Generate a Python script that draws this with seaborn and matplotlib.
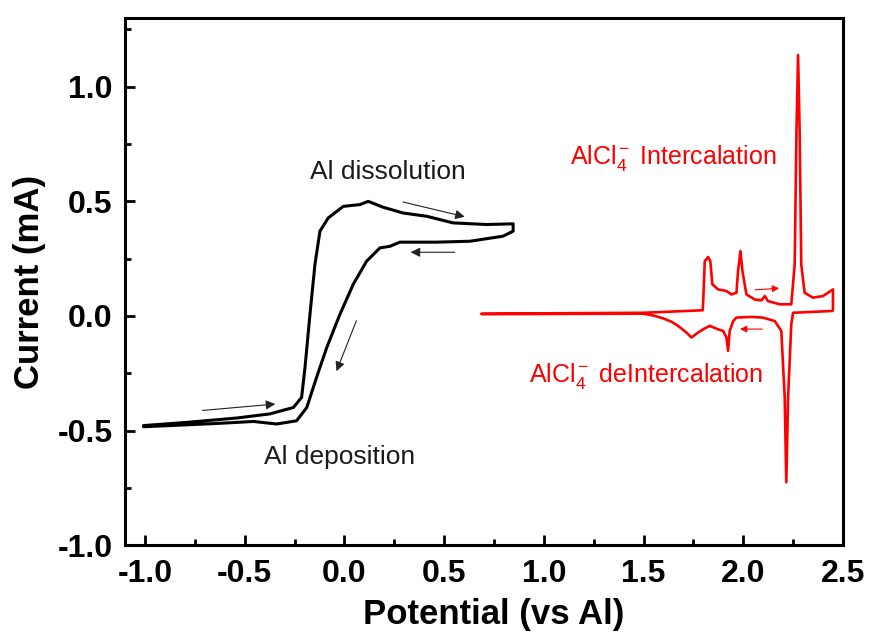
import matplotlib
matplotlib.use("Agg")
import matplotlib.pyplot as plt
import seaborn as sns
import pandas as pd
from matplotlib.ticker import MultipleLocator

# Al deposition / dissolution loop (black)
al_potential = [-1.008, -0.791, -0.541, -0.374, -0.256, -0.215, -0.198, -0.173, -0.148, -0.123,
                -0.081, -0.006, 0.078, 0.119, 0.195, 0.295, 0.412, 0.545, 0.712, 0.846,
                0.846, 0.795, 0.629, 0.462, 0.278, 0.228, 0.178, 0.111, 0.044, -0.023,
                -0.089, -0.140, -0.189, -0.240, -0.340, -0.457, -0.624, -0.875, -1.008]
al_current = [-0.478, -0.464, -0.445, -0.427, -0.399, -0.355, -0.225, 0.007, 0.225, 0.370,
              0.428, 0.478, 0.486, 0.500, 0.474, 0.449, 0.435, 0.406, 0.399, 0.402,
              0.370, 0.348, 0.326, 0.322, 0.322, 0.304, 0.297, 0.239, 0.138, 0.007,
              -0.138, -0.268, -0.399, -0.457, -0.471, -0.460, -0.468, -0.478, -0.483]

# AlCl4- intercalation / deintercalation loop (red)
cl_potential = [0.688, 1.498, 1.797, 1.800, 1.807, 1.824, 1.835, 1.845, 1.874, 1.916,
                1.941, 1.966, 1.974, 1.986, 1.996, 2.016, 2.058, 2.091, 2.108, 2.124,
                2.183, 2.241, 2.258, 2.267, 2.275, 2.283, 2.291, 2.308, 2.350, 2.400,
                2.450, 2.450, 2.448, 2.250, 2.241, 2.225, 2.216, 2.208, 2.191, 2.158,
                2.099, 2.041, 1.966, 1.950, 1.932, 1.924, 1.916, 1.899, 1.874, 1.832,
                1.799, 1.774, 1.740, 1.715, 1.673, 1.640, 1.598, 1.550, 1.498, 0.688]
cl_current = [0.010, 0.014, 0.025, 0.080, 0.239, 0.257, 0.239, 0.138, 0.116, 0.109,
              0.094, 0.101, 0.196, 0.283, 0.196, 0.094, 0.072, 0.068, 0.087, 0.065,
              0.051, 0.051, 0.225, 0.804, 1.138, 0.804, 0.225, 0.101, 0.080, 0.087,
              0.116, 0.029, 0.022, 0.014, -0.036, -0.355, -0.725, -0.355, -0.065, -0.022,
              -0.007, -0.004, -0.007, -0.022, -0.065, -0.152, -0.094, -0.065, -0.058, -0.043,
              -0.058, -0.072, -0.094, -0.072, -0.043, -0.025, -0.010, 0.002, 0.010, 0.008]

x_ticks = [-1.0, -0.5, 0.0, 0.5, 1.0, 1.5, 2.0, 2.5]
y_ticks = [-1.0, -0.5, 0.0, 0.5, 1.0]

al_df = pd.DataFrame({"Potential": al_potential, "Current": al_current})
cl_df = pd.DataFrame({"Potential": cl_potential, "Current": cl_current})

sns.set_style("ticks")
plt.rcParams['font.family'] = ['Liberation Sans', 'DejaVu Sans']
plt.rcParams['mathtext.fontset'] = 'custom'
plt.rcParams['mathtext.rm'] = 'Liberation Sans'
plt.rcParams['mathtext.it'] = 'Liberation Sans'
plt.rcParams['axes.unicode_minus'] = False
plt.rcParams['text.color'] = 'black'
plt.rcParams['axes.labelcolor'] = 'black'
plt.rcParams['xtick.color'] = 'black'
plt.rcParams['ytick.color'] = 'black'
plt.rcParams['axes.edgecolor'] = 'black'

fig = plt.figure(figsize=(8.69, 6.4), dpi=100)
ax = fig.add_axes([0.144, 0.148, 0.826, 0.824])

sns.lineplot(data=al_df, x="Potential", y="Current", sort=False, estimator=None,
             color="black", linewidth=2.2, ax=ax)
sns.lineplot(data=cl_df, x="Potential", y="Current", sort=False, estimator=None,
             color="#ff0000", linewidth=1.9, ax=ax)

ax.set_xlim(-1.1, 2.5)
ax.set_ylim(-1.0, 1.3)
ax.set_xticks(x_ticks)
ax.set_yticks(y_ticks)
ax.xaxis.set_minor_locator(MultipleLocator(0.25))
ax.yaxis.set_minor_locator(MultipleLocator(0.25))
ax.tick_params(which="both", direction="in", width=2, top=False, right=False)
ax.tick_params(which="major", length=7, labelsize=23)
ax.tick_params(axis="x", which="major", pad=10)
ax.tick_params(axis="y", which="major", pad=9)
ax.tick_params(which="minor", length=4)
for lab in ax.get_xticklabels() + ax.get_yticklabels():
    lab.set_fontweight("bold")
for sp in ax.spines.values():
    sp.set_linewidth(2.2)

ax.set_xlabel("Potential (vs Al)", fontsize=25, fontweight="bold")
ax.set_ylabel("Current (mA)", fontsize=25, fontweight="bold", labelpad=8)
ax.xaxis.set_label_coords(0.514, -0.1)

# annotations
ax.text(0.218, 0.626, "Al dissolution", fontsize=19, color="#1a1a1a", ha="center", va="center")
ax.text(-0.023, -0.617, "Al deposition", fontsize=19, color="#1a1a1a", ha="center", va="center")
ax.text(1.647, 0.687, r"AlCl$_4^-$ Intercalation", fontsize=18, color="#ff0000",
        ha="center", va="center")
ax.text(1.511, -0.26, r"AlCl$_4^-$ deIntercalation", fontsize=18, color="#ff0000",
        ha="center", va="center")

black_arrows = [((0.28, 0.50), (0.617, 0.43)),
                ((0.567, 0.278), (0.318, 0.278)),
                ((0.065, -0.009), (-0.045, -0.252)),
                ((-0.726, -0.413), (-0.333, -0.383))]
for start, end in black_arrows:
    ax.annotate("", xy=end, xytext=start,
                arrowprops=dict(arrowstyle="-|>", color="#222222", lw=0.8, mutation_scale=14))
red_arrows = [((2.045, 0.113), (2.194, 0.122)),
              ((2.109, -0.057), (1.970, -0.057))]
for start, end in red_arrows:
    ax.annotate("", xy=end, xytext=start,
                arrowprops=dict(arrowstyle="-|>", color="#ff0000", lw=0.8, mutation_scale=10))

fig.savefig("out.png", dpi=100)
